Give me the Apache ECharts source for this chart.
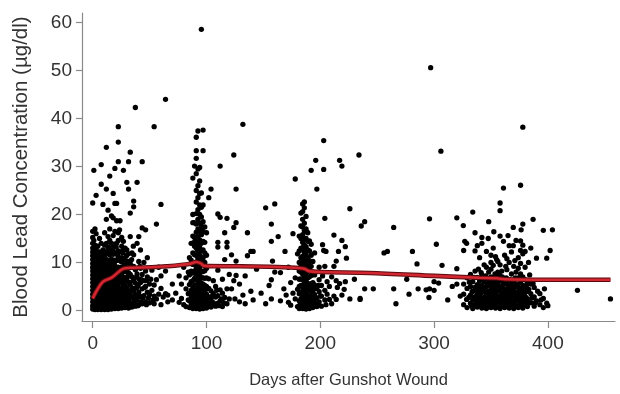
<!DOCTYPE html>
<html>
<head>
<meta charset="utf-8">
<script src="https://cdn.jsdelivr.net/npm/echarts@6/dist/echarts.min.js"></script>
<style>
html,body{margin:0;padding:0;background:#fff;}
#chart{width:620px;height:394px;}
</style>
</head>
<body>
<div id="chart"></div>
<script>
// Scatter columns: [day, [blood lead values...]]
const earlyCols = [
  [0,[0.3,1,1.8,2.6,3.4,4.2,5,5.8,6.6,7.4,8.2,9,9.8,10.6,11.4,12.2,13,14,15.2,16.5,22.4]],
  [1,[0.6,1.4,2.2,3,3.8,4.6,5.4,6.2,7,7.8,8.6,9.4,10.2,11,11.8,12.8,14.6,29.2]],
  [2,[0.2,1,1.8,2.6,3.4,4.2,5,5.8,6.6,7.4,8.2,9,10,11,12.2,13.6,17]],
  [3,[0.6,1.4,2.2,3,3.8,4.6,5.4,6.2,7,7.8,8.6,9.4,10.4,11.6,12.8,16,24]],
  [4.5,[0.2,1,1.8,2.6,3.4,4.2,5,5.8,6.6,7.4,8.2,9.2,10.2,11.4,13.4]],
  [6,[0.6,1.4,2.2,3,3.8,4.6,5.4,6.2,7,7.8,8.7,9.6,10.8,12.2,15]],
  [7.5,[0.2,1,1.8,2.6,3.4,4.2,5,5.8,6.6,7.4,8.3,9.3,10.4,11.8,14,26.3,30.4]],
  [9,[0.6,1.4,2.2,3,3.8,4.6,5.4,6.2,7.1,8,9,10,11.2,12.6,22.1]],
  [10.5,[0.2,1,1.8,2.6,3.4,4.2,5,5.9,6.8,7.7,8.7,9.8,11,12.4,13.6,16.2]],
  [12,[0.6,1.4,2.2,3,3.8,4.7,5.6,6.5,7.4,8.4,9.4,10.6,12,14,19,25.3,34]],
  [13.5,[0.2,1,1.8,2.6,3.5,4.4,5.3,6.2,7.2,8.2,9.3,10.5,11.8,13.2,15.4,20.9]],
  [15,[0.6,1.4,2.3,3.2,4.1,5,6,7,8,9.1,10.3,11.6,13,14.6,17,28]],
  [16.5,[0.3,1.2,2.1,3,4,5,6,7.1,8.2,9.4,10.7,12.2,14,19.7]],
  [18,[0.8,1.7,2.6,3.6,4.6,5.6,6.7,7.8,9,10.3,11.7,13.2,15.6,19.3,24.4]],
  [19.5,[0.4,1.3,2.3,3.3,4.4,5.5,6.6,7.8,9.1,10.5,12,13.8,16.5,22.3,29.6]],
  [21,[0.9,1.9,3,4.1,5.2,6.4,7.7,9,10.4,12,14,18.7,22.3]],
  [22.5,[0.4,1.5,2.6,3.8,5,6.3,7.6,9,10.6,12.4,14.6,16.2,31,35.1,38.3]],
  [24,[1,2.1,3.3,4.6,5.9,7.3,8.8,10.4,12.2,18.7]],
  [25.5,[0.5,1.7,3,4.4,5.8,7.4,9.1,11,13.4,15.2]],
  [27,[1.1,2.4,3.8,5.3,6.9,8.6,10.5,12.6,14.4,29.2]],
  [28.5,[0.6,2,3.5,5.1,6.8,8.6,10.6,13]],
  [30,[1.3,2.9,4.5,6.2,8,10,12.6,26.7]],
  [31.5,[0.5,2.2,4,5.9,7.9,10.2,11.8,25.3,31]],
  [33,[1.4,3.3,5.3,7.5,9.8,15.4,20.3,33]],
  [34.5,[0.7,2.6,4.7,7,9.2,12]],
  [36,[1.8,4,6.4,9.2,11.6,21.6,22.8]],
  [37.5,[0.9,3.2,5.7,8.5,42.3]],
  [39,[2.2,4.8,7.6,14,26.7]],
  [40.5,[1.2,3.8,6.6,10.2,15.4]],
  [42,[2.8,5.8,8.8,12.6]],
  [43.5,[1.4,4.5,7.5,17.2,31]],
  [45,[3.1,6.2,10]],
  [46.5,[1.8,5,8.2,16.8]],
  [48,[3.8,7,11]],
  [50,[1.6,3.3,5.5]],
  [52,[4.2,8.4]],
  [54,[1.4,3,5.3,38.3]],
  [56,[2.4,6.4,18]],
  [58,[3.4,9]],
  [60,[1.2,4.6,7.2,22.1]],
  [62,[2.8]],
  [64,[3.5,8.2,44]],
  [66,[1.8,3.2]],
  [70,[5.5,2.2]],
  [73,[3.6]],
  [76,[1.7,7.2]],
  [78,[2.5,5.5]],
  [80,[1.2,9]],
  [82,[4.5,0.8,6.8]],
  [84,[2.2,8,3.5]]
];
const earlyExtra = [
  [0.5,0.8],[0.7,4.6],[0.4,8.8],[1.3,12.4],[2.4,5.6],[2.7,10.8],[3.6,2.4],[3.8,7.2],[5.2,0.9],[5.4,4.4],
  [5.6,9.9],[6.7,3.2],[6.9,6.8],[8.2,1.6],[8.3,5.1],[8.6,8.9],[9.7,2.7],[9.8,11.8],[11.2,0.9],[11.4,4.5],
  [11.6,7.9],[12.8,2.6],[13,6],[13.1,10],[14.2,1.3],[14.4,4.8],[14.6,8.6],[14.7,12.4],[15.8,2.9],[16,6.5],
  [16.2,10.1],[17.2,1],[17.4,4.6],[17.5,8.1],[17.6,12.6],[18.7,2.9],[18.9,6.1],[19,9.7],[20.2,1.6],[20.4,5],
  [20.6,8.4],[20.7,13.2],[21.7,2.5],[21.9,6.9],[22.1,11.4],[23.2,1.1],[23.4,4.4],[23.5,8.2],[23.6,16.8],[24.6,2.8],
  [24.8,6.6],[25,10.2],[26.1,1.2],[26.3,4.6],[26.5,8],[26.6,12],[27.7,3.1],[27.9,6.1],[28,9.5],[29.2,1.8],
  [29.4,4.8],[29.5,8.2],[29.7,11.4],[30.7,3.6],[30.9,7.1],[31.1,1],[32.2,2.6],[32.4,5.8],[32.6,9.4],[33.8,1.2],
  [34,4.2],[34.2,10.6],[35.3,2.8],[35.5,6.2],[35.7,13.4],[37,1.6],[37.2,4.6],[38.4,2.4],[38.6,7],[39.8,1],
  [40,5.2],[41.3,3],[41.5,9.2],[42.8,1.8],[43,6.4],[44.3,2.6],[45.6,4.8],[47.2,1.2],[47.4,6.2],[49,2.6],
  [51,6.5],[53,2.2]
];
const threeMonthCols = [
  [85,[0.6,2,3.6,5.4,7.4,11]],
  [86.5,[1.2,2.6,4.2,6,8.2,10.5,14]],
  [88,[0.4,1.8,3.2,4.7,6.2,7.8,9.6,12,15.5,18.3,20,27.6]],
  [89.5,[1,2.4,3.8,5.2,6.7,8.2,9.8,11.6,13.4,15.2,18.3,30.1]],
  [91,[0.4,1.6,2.8,4,5.2,6.4,7.6,8.8,10.1,11.5,13,14.6,16.3,18,20.2,22.6,25,28.5,31.7,33.3,36.1]],
  [92.5,[0.9,2.1,3.3,4.5,5.7,6.9,8.2,9.5,10.9,12.3,13.8,15.4,17,19,21,23.5,26,29.5,37.4]],
  [94,[0.3,1.5,2.7,3.9,5.1,6.3,7.5,8.8,10.2,11.6,13.1,14.7,16.4,18.2,20,22,24.4,27,29.8]],
  [95.5,[0.9,2.1,3.3,4.5,5.7,6.9,8.2,9.6,11,12.5,14,15.8,17.6,19.5,21.5,24.5,58.6]],
  [97,[0.4,1.6,2.9,4.2,5.5,6.8,8.1,9.5,11,12.6,14.4,16.5,18.5,22,33.3,37.6]],
  [98.5,[1.1,2.4,3.8,5.2,6.7,8.3,10,12,14.2,17.4]],
  [100,[0.5,1.9,3.4,5,6.8,8.8,11.5,16.2]],
  [102,[1.2,2.8,4.6,6.6,23.5]],
  [104,[0.7,2.3,4.1,25.3]],
  [106,[1.6,3.5,6.2]],
  [108,[0.9,2.8,5]],
  [110,[3.1,1.5,8.4,13.2,14.2,20.1]],
  [112,[2,4.3,19.4,30.1]],
  [114,[0.8,3.6,6.5]],
  [116,[2.7,10.6,16.2]],
  [118,[1.4,4.5,13.2,14.2,19.2]],
  [120,[2.4,7.5]],
  [122,[4.5,11.6]],
  [124,[6.2,17.3,32.4]],
  [125,[2.4]],
  [126,[7.3,10.3,18.3,25.3]],
  [129,[5.5,1.8]],
  [132,[3.2,38.8]],
  [134,[1.4,7.2]],
  [136,[16.2,11.4]],
  [139,[12.3,4]],
  [141,[12.3,2.2]],
  [144,[8.6]],
  [148,[3.6]],
  [152,[1.4,21.4]],
  [155,[5.2]],
  [157,[2.4,6.4,14.4,18]],
  [158,[10.3]],
  [160,[22.2,8]],
  [163,[15.4]],
  [165,[7.9,2]]
];
const threeMonthExtra = [
  [87.2,1.1],[88.8,2.8],[90.2,4.4],[90.4,0.9],[91.8,2.3],[93.2,1.1],[93.4,4.8],[94.8,2.6],[96.2,1.3],[96.4,4.8],
  [97.8,2.9],[99.2,1.4],[99.4,4.4],[101,2.6],[103,1.5],[105,3],[107,1.2],[109,4.2],[111,1],[113,2.4],
  [115,1.6],[90.8,7],[93.8,9.4],[96.8,10.4],[92,12.6],[95,16.8],[89,14.2]
];
const sixMonthCols = [
  [168,[4.5]],
  [169,[12.3]],
  [170,[3.2]],
  [172,[1.7,9]],
  [174,[1.1,5.8]],
  [176,[3.6,16]],
  [178,[6.8,27.4,2.4]],
  [180,[0.8,4.4,11.8]],
  [181.5,[0.4,2,3.5,5,6.5,8.2,10,12.4,15.5]],
  [183,[1,2.4,3.8,5.2,6.6,8,9.5,11,13,15,17.6,20.3]],
  [184.5,[0.4,1.6,2.8,4,5.2,6.4,7.6,8.8,10,11.3,12.7,14.2,15.8,17.4,19,20.6,22.2]],
  [186,[0.9,2.1,3.3,4.5,5.7,6.9,8.1,9.4,10.8,12.2,13.6,15,16.6,18.2,21.4,22.6]],
  [187.5,[0.3,1.5,2.7,3.9,5.1,6.3,7.5,8.8,10.2,11.7,13.3,15,17,19.6]],
  [189,[0.8,2,3.2,4.4,5.6,6.8,8.1,9.5,11,12.6,14.4,16.2]],
  [190.5,[0.4,1.6,2.9,4.2,5.5,7,8.6,10.4,12.4,14.5]],
  [192,[1.1,2.5,4,5.6,7.3,9.2,11.5,13.8,29.2]],
  [193.5,[0.6,2.2,3.9,5.8,8,10.2]],
  [195,[1.5,3.3,5.3,7.4,12]],
  [196,[31.3]],
  [197,[0.8,2.6,4.6,25.3]],
  [199,[1.8,3.9,6.4,9]],
  [201,[0.9,3,5.2]],
  [202,[7.2,13.7]],
  [203,[35.4,29.4,12.5]],
  [204,[2.2,4.2,19.2,9.2]],
  [205,[1.2,12.3]],
  [206,[3.4,6]],
  [208,[2.3,5]],
  [210,[1.4,7]],
  [212,[3,9.2,15.7]],
  [214,[2.3,6.2,10.3]],
  [215,[4.8]],
  [216,[12.3]],
  [217,[31.3,5.6]],
  [219,[3.2,14.6,30.1]],
  [221,[4.4]],
  [222,[13.3,6]],
  [223,[10.9]],
  [226,[2.4,21.2]],
  [230,[6.5]],
  [234,[32.4]],
  [235,[2.3,2.5]],
  [236,[17.6]],
  [239,[4.5,18.5]]
];
const sixMonthExtra = [
  [182.2,1.2],[183.8,3.2],[185.2,1.2],[185.4,4.6],[186.8,2.6],[188.2,1.1],[188.4,4.4],[189.8,2.6],[191.2,1.2],[191.4,4.8],
  [192.8,3.2],[194.2,1.2],[194.4,4.5],[196,2.4],[198,1.2],[198.2,5.2],[200,3],[184,9.2],[187,7],[190,9.8],
  [185.5,13.4],[188,16.4]
];
const midCols = [
  [246.6,[4.5]],
  [256,[12]],
  [259,[12.3]],
  [264.5,[4.5,17.3]],
  [266.5,[1.4]],
  [276,[6.5]],
  [278,[3.4]],
  [281,[12.3]],
  [285,[9.7]],
  [286,[4.5]],
  [293,[4.3]],
  [295.5,[2.7]],
  [296,[19.1,4.5]],
  [297,[50.6]],
  [300,[6,4.2]],
  [302,[13.8]],
  [304,[5.7]],
  [306,[33.2]],
  [307,[9.4]],
  [312,[2.2]],
  [316,[5]],
  [320,[19.3,8.7,5.5]],
  [323,[3]]
];
const yearCols = [
  [325.7,[17.7]],
  [326,[12.5,1.2,3.4,5.5]],
  [327,[14.4]],
  [328.6,[2.3,14]],
  [329,[0.6,4.6,6.8]],
  [332,[1.5,3.2,5,7.5]],
  [334,[0.4,2.2,4,6,20.5]],
  [336,[1.2,2.9,4.8,8.2,16.2]],
  [338,[0.7,2,3.6,5.4,6.9,13.5]],
  [339,[8.6]],
  [340,[1.4,3,4.4,6.2]],
  [342,[0.5,2.3,3.8,5.2,7.4,14,15.2]],
  [344,[1.1,2.7,4.5,6]],
  [346,[0.4,1.9,3.3,5,6.6,9,12.3]],
  [347.6,[15]],
  [348,[1.2,2.6,4,5.6,18.5,8]],
  [350,[0.6,2,3.4,4.8,7,10,11.5]],
  [352,[1.4,2.8,4.3,5.9,13,9.4]],
  [354,[0.5,1.9,3.4,5,6.5,11.2]],
  [356,[1.1,2.5,4,5.5,8,10.2]],
  [358,[0.4,1.7,3,4.6,6.2,9.5,15.5,20.8,22.4]],
  [360,[1,2.3,3.7,5.2,7]],
  [361,[14.4,25.5]],
  [362,[0.6,1.9,3.2,4.5,6,11.5]],
  [364,[1.2,2.6,4,5.5,8.5,10.8]],
  [366,[0.5,1.8,3.1,4.7,6.4,10,13.5]],
  [368,[1.1,2.5,3.9,5.4,7.6,12.2]],
  [369.6,[17.3,13.5]],
  [370,[0.4,1.7,3.2,4.6,6.2,9.2]],
  [372,[1,2.4,3.8,5.5,8]],
  [374,[0.6,1.9,3.3,4.8,6.8,8.8,11]],
  [376,[1.3,2.7,4.2,5.8,7.6,9.8,12.5,14.5,26.1]],
  [378,[0.5,2,3.5,5.2,7,11.8,13.6,18,38.2]],
  [380,[1.5,3,4.5,6.4,9]],
  [382,[0.8,2.4,4,6]],
  [385,[1.6,3.5,5.5,13]],
  [387,[19]],
  [388,[0.9,2.8,4.8]],
  [390,[2,10.9]],
  [393,[1.2,3.5]],
  [396,[0.6,2.5,16.7]],
  [399,[1.5,10.9]],
  [402,[12.5]],
  [404,[16.8]],
  [426,[4.2]],
  [455,[2.4]]
];
const yearExtra = [
  [330.5,2.7],[331,5.9],[333,1],[333.4,3.9],[335,2.6],[335.2,6.9],[337,1.6],[337.3,4.2],[339.2,2.6],[339.5,5.1],
  [341,0.9],[341.2,3.6],[341.4,7.9],[343,2],[343.2,4.9],[345,1.4],[345.2,3.9],[345.4,7.2],[347,2.6],[347.2,5.6],
  [349,1.2],[349.3,3.6],[349.5,6.2],[351,0.8],[351.2,2.5],[351.5,5.2],[353,1.6],[353.3,4],[353.5,7.6],[355,0.9],
  [355.2,3],[355.5,6],[357,2.1],[357.3,5],[357.5,7.4],[359,1.2],[359.3,3.8],[359.5,8.2],[361.2,2.6],[361.4,5.6],
  [363,1],[363.3,3.5],[363.5,6.8],[365,2.3],[365.3,5],[367,0.8],[367.2,3.6],[367.5,6.2],[369,2],[369.3,4.6],
  [371,1.1],[371.2,3.6],[371.5,6.8],[373,2.6],[373.2,5],[375,0.9],[375.2,3.6],[377,2.2],[377.2,4.6],[377.4,6.6],
  [379,1.2],[379.3,3.8],[381,2.6],[381.2,5.2],[383,1.6],[383.3,4.4],[384,7.4],[386,2.6],[387,5.6],[389,1.6],
  [391,4],[394,2.2],[397,4.5],[400,1],[344,9.5],[350,8.6],[355,10.6],[363,9.2],[371,10.4],[376.5,16.8],
  [352.5,16.4],[340,11],[336,12.4],[365,15.6],[380,12.3],[383,10],[372,14.6]
];
// Smoothed trend (red curve)
const trendDays   = [0,3.5,9,17,26,33,52,65,85,91,95,98,130,155,178,186,190,200,243,300,340,355,362,400,455];
const trendValues = [2.5,4.1,6.0,6.9,8.6,8.9,9.0,9.2,9.7,10.1,9.8,9.3,9.2,9.1,8.9,8.7,8.2,8.0,7.8,7.2,6.8,6.7,6.5,6.4,6.4];
// Axis ticks
const xTicks = [0,100,200,300,400];
const yTicks = [0,10,20,30,40,50,60];

const points = [];
[earlyCols, threeMonthCols, sixMonthCols, midCols, yearCols].forEach(cols => {
  cols.forEach(([d, vals]) => vals.forEach(v => points.push([d, v])));
});
[earlyExtra, threeMonthExtra, sixMonthExtra, yearExtra].forEach(list => list.forEach(p => points.push(p)));
const trend = trendDays.map((d, i) => [d, trendValues[i]]);

const font = '"Liberation Sans", Arial, Helvetica, sans-serif';
const axisGray = '#8a8a8a';
const chart = echarts.init(document.getElementById('chart'), null, {renderer: 'canvas'});
chart.setOption({
  animation: false,
  backgroundColor: '#fff',
  grid: {left: 82, right: 5, top: 13, bottom: 68, containLabel: false},
  xAxis: {
    type: 'value', min: -9.4, max: 459,
    name: 'Days after Gunshot Wound', nameLocation: 'middle', nameGap: 51,
    nameTextStyle: {fontFamily: font, fontSize: 16.5, color: '#333'},
    axisLine: {show: true, onZero: false, lineStyle: {color: axisGray, width: 1.2}},
    axisTick: {show: true, length: 7, customValues: xTicks, lineStyle: {color: axisGray, width: 1.2}},
    axisLabel: {customValues: xTicks, margin: 13, fontFamily: font, fontSize: 19, color: '#333'},
    splitLine: {show: false}
  },
  yAxis: {
    type: 'value', min: -2.2, max: 62,
    name: 'Blood Lead Concentration (µg/dl)', nameLocation: 'middle', nameGap: 50, nameRotate: 90,
    nameTextStyle: {fontFamily: font, fontSize: 20.5, color: '#333'},
    axisLine: {show: true, onZero: false, lineStyle: {color: axisGray, width: 1.2}},
    axisTick: {show: true, length: 6, customValues: yTicks, lineStyle: {color: axisGray, width: 1.2}},
    axisLabel: {customValues: yTicks, margin: 10, fontFamily: font, fontSize: 19, color: '#333'},
    splitLine: {show: false}
  },
  series: [
    {
      type: 'scatter', data: points, symbol: 'circle', symbolSize: 5.3,
      itemStyle: {color: '#000', opacity: 1}, z: 2
    },
    {
      type: 'line', data: trend, symbol: 'none', smooth: 0.3, z: 3,
      lineStyle: {color: '#5a0a0e', width: 4.6}
    },
    {
      type: 'line', data: trend, symbol: 'none', smooth: 0.3, z: 4,
      lineStyle: {color: '#d22630', width: 2.6}
    }
  ]
});
</script>
</body>
</html>
